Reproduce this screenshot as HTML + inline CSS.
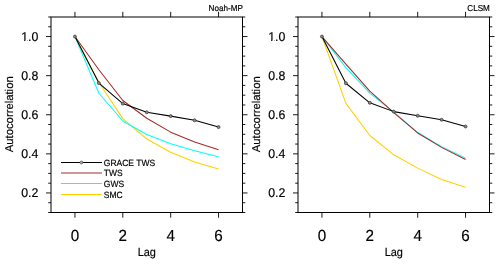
<!DOCTYPE html>
<html><head><meta charset="utf-8"><style>
html,body{margin:0;padding:0;background:#fff;}
body{width:500px;height:264px;overflow:hidden;}
svg{display:block;}
path.t{stroke:#000;stroke-width:0.18;}
text{stroke:#000;stroke-width:0.18;text-rendering:geometricPrecision;}
svg{will-change:transform;}
text{font-family:"Liberation Sans",sans-serif;fill:#000;}
</style></head><body>
<svg width="500" height="264" viewBox="0 0 500 264">
<path d="M51 212.5H48.2M242.5 212.5H245.3M51 202.72H48.2M242.5 202.72H245.3M51 192.95H46M242.5 192.95H247.5M51 183.18H48.2M242.5 183.18H245.3M51 173.4H48.2M242.5 173.4H245.3M51 163.62H48.2M242.5 163.62H245.3M51 153.85H46M242.5 153.85H247.5M51 144.07H48.2M242.5 144.07H245.3M51 134.3H48.2M242.5 134.3H245.3M51 124.52H48.2M242.5 124.52H245.3M51 114.75H46M242.5 114.75H247.5M51 104.97H48.2M242.5 104.97H245.3M51 95.2H48.2M242.5 95.2H245.3M51 85.42H48.2M242.5 85.42H245.3M51 75.65H46M242.5 75.65H247.5M51 65.87H48.2M242.5 65.87H245.3M51 56.1H48.2M242.5 56.1H245.3M51 46.32H48.2M242.5 46.32H245.3M51 36.55H46M242.5 36.55H247.5M51 26.77H48.2M242.5 26.77H245.3M51 17H48.2M242.5 17H245.3M74.94 212.5V217.7M74.94 17V11.8M122.81 212.5V217.7M122.81 17V11.8M170.69 212.5V217.7M170.69 17V11.8M218.56 212.5V217.7M218.56 17V11.8" stroke="#000" stroke-width="0.9" fill="none"/>
<polyline points="74.94,36.55 98.88,82.49 122.81,118.66 146.75,138.99 170.69,152.29 194.62,162.06 218.56,169.1" stroke="#ffd000" stroke-width="1.05" fill="none" stroke-linejoin="round"/>
<polyline points="74.94,36.55 98.88,93.25 122.81,121.01 146.75,134.5 170.69,143.68 194.62,150.72 218.56,156.78" stroke="#00ffff" stroke-width="1.05" fill="none" stroke-linejoin="round"/>
<polyline points="74.94,36.55 98.88,69.78 122.81,100.48 146.75,118.27 170.69,132.15 194.62,141.92 218.56,149.74" stroke="#a52a2a" stroke-width="1.05" fill="none" stroke-linejoin="round"/>
<polyline points="74.94,36.55 98.88,83.08 122.81,103.61 146.75,112.21 170.69,116.12 194.62,120.32 218.56,127.07" stroke="#000000" stroke-width="1.05" fill="none" stroke-linejoin="round"/>
<circle cx="74.94" cy="36.55" r="1.5" fill="#8a8a8a" stroke="#333" stroke-width="0.7"/>
<circle cx="98.88" cy="83.08" r="1.5" fill="#8a8a8a" stroke="#333" stroke-width="0.7"/>
<circle cx="122.81" cy="103.61" r="1.5" fill="#8a8a8a" stroke="#333" stroke-width="0.7"/>
<circle cx="146.75" cy="112.21" r="1.5" fill="#8a8a8a" stroke="#333" stroke-width="0.7"/>
<circle cx="170.69" cy="116.12" r="1.5" fill="#8a8a8a" stroke="#333" stroke-width="0.7"/>
<circle cx="194.62" cy="120.32" r="1.5" fill="#8a8a8a" stroke="#333" stroke-width="0.7"/>
<circle cx="218.56" cy="127.07" r="1.5" fill="#8a8a8a" stroke="#333" stroke-width="0.7"/>
<rect x="51" y="17" width="191.5" height="195.5" stroke="#000" stroke-width="1" fill="none"/>
<g transform="translate(38.3 40.95) scale(1 1.03)"><text font-size="12.35" text-anchor="end">1.0</text><path d="M-16.35 0.24H-14.13V-0.98H-16.35ZM-12.9 0.24H-10.78V-0.98H-12.9Z" fill="#fff"/></g>
<g transform="translate(38.3 80.05) scale(1 1.03)"><text font-size="12.35" text-anchor="end">0.8</text></g>
<g transform="translate(38.3 119.15) scale(1 1.03)"><text font-size="12.35" text-anchor="end">0.6</text></g>
<g transform="translate(38.3 158.25) scale(1 1.03)"><text font-size="12.35" text-anchor="end">0.4</text></g>
<g transform="translate(38.3 197.35) scale(1 1.03)"><text font-size="12.35" text-anchor="end">0.2</text></g>
<g transform="translate(74.94 240.8) scale(0.95 1)"><text font-size="16" text-anchor="middle">0</text></g>
<g transform="translate(122.81 240.8) scale(0.95 1)"><text font-size="16" text-anchor="middle">2</text></g>
<g transform="translate(170.69 240.8) scale(0.95 1)"><text font-size="16" text-anchor="middle">4</text></g>
<g transform="translate(218.56 240.8) scale(0.95 1)"><text font-size="16" text-anchor="middle">6</text></g>
<g transform="translate(146.75 256) scale(1 1.08)"><text font-size="10.9" text-anchor="middle">Lag</text></g>
<g transform="translate(13.3 114.3) rotate(-90)"><text font-size="11.3" text-anchor="middle">Autocorrelation</text></g>
<g transform="translate(242.8 11.3) scale(1 1.06)"><text font-size="8.1" text-anchor="end">Noah-MP</text></g>
<path d="M61 162.5H102" stroke="#000000" stroke-width="1.05"/>
<g transform="translate(103.8 165.7) scale(1 1.06)"><text font-size="8.5">GRACE TWS</text></g>
<path d="M61 173H102" stroke="#a52a2a" stroke-width="1.05"/>
<g transform="translate(103.8 176.2) scale(1 1.06)"><text font-size="8.5">TWS</text></g>
<path d="M61 183.5H102" stroke="#00ffff" stroke-width="1.05"/>
<g transform="translate(103.8 186.7) scale(1 1.06)"><text font-size="8.5">GWS</text></g>
<path d="M61 194.4H102" stroke="#ffd000" stroke-width="1.05"/>
<g transform="translate(103.8 197.6) scale(1 1.06)"><text font-size="8.5">SMC</text></g>
<circle cx="81.4" cy="162.5" r="1.45" fill="#b0b0b0" stroke="#333" stroke-width="0.6"/>
<path d="M298 212.5H295.2M489.5 212.5H492.3M298 202.72H295.2M489.5 202.72H492.3M298 192.95H293M489.5 192.95H494.5M298 183.18H295.2M489.5 183.18H492.3M298 173.4H295.2M489.5 173.4H492.3M298 163.62H295.2M489.5 163.62H492.3M298 153.85H293M489.5 153.85H494.5M298 144.07H295.2M489.5 144.07H492.3M298 134.3H295.2M489.5 134.3H492.3M298 124.52H295.2M489.5 124.52H492.3M298 114.75H293M489.5 114.75H494.5M298 104.97H295.2M489.5 104.97H492.3M298 95.2H295.2M489.5 95.2H492.3M298 85.42H295.2M489.5 85.42H492.3M298 75.65H293M489.5 75.65H494.5M298 65.87H295.2M489.5 65.87H492.3M298 56.1H295.2M489.5 56.1H492.3M298 46.32H295.2M489.5 46.32H492.3M298 36.55H293M489.5 36.55H494.5M298 26.77H295.2M489.5 26.77H492.3M298 17H295.2M489.5 17H492.3M321.94 212.5V217.7M321.94 17V11.8M369.81 212.5V217.7M369.81 17V11.8M417.69 212.5V217.7M417.69 17V11.8M465.56 212.5V217.7M465.56 17V11.8" stroke="#000" stroke-width="0.9" fill="none"/>
<polyline points="321.94,36.55 345.88,103.41 369.81,135.47 393.75,154.83 417.69,168.12 441.62,179.46 465.56,187.28" stroke="#ffd000" stroke-width="1.05" fill="none" stroke-linejoin="round"/>
<polyline points="321.94,36.55 345.88,67.63 369.81,93.05 393.75,112.21 417.69,132.54 441.62,146.62 465.56,158.15" stroke="#00ffff" stroke-width="1.05" fill="none" stroke-linejoin="round"/>
<polyline points="321.94,36.55 345.88,64.12 369.81,91.09 393.75,112.6 417.69,132.93 441.62,147.4 465.56,159.52" stroke="#a52a2a" stroke-width="1.05" fill="none" stroke-linejoin="round"/>
<polyline points="321.94,36.55 345.88,83.27 369.81,102.82 393.75,111.62 417.69,115.73 441.62,119.74 465.56,126.48" stroke="#000000" stroke-width="1.05" fill="none" stroke-linejoin="round"/>
<circle cx="321.94" cy="36.55" r="1.5" fill="#8a8a8a" stroke="#333" stroke-width="0.7"/>
<circle cx="345.88" cy="83.27" r="1.5" fill="#8a8a8a" stroke="#333" stroke-width="0.7"/>
<circle cx="369.81" cy="102.82" r="1.5" fill="#8a8a8a" stroke="#333" stroke-width="0.7"/>
<circle cx="393.75" cy="111.62" r="1.5" fill="#8a8a8a" stroke="#333" stroke-width="0.7"/>
<circle cx="417.69" cy="115.73" r="1.5" fill="#8a8a8a" stroke="#333" stroke-width="0.7"/>
<circle cx="441.62" cy="119.74" r="1.5" fill="#8a8a8a" stroke="#333" stroke-width="0.7"/>
<circle cx="465.56" cy="126.48" r="1.5" fill="#8a8a8a" stroke="#333" stroke-width="0.7"/>
<rect x="298" y="17" width="191.5" height="195.5" stroke="#000" stroke-width="1" fill="none"/>
<g transform="translate(285.3 40.95) scale(1 1.03)"><text font-size="12.35" text-anchor="end">1.0</text><path d="M-16.35 0.24H-14.13V-0.98H-16.35ZM-12.9 0.24H-10.78V-0.98H-12.9Z" fill="#fff"/></g>
<g transform="translate(285.3 80.05) scale(1 1.03)"><text font-size="12.35" text-anchor="end">0.8</text></g>
<g transform="translate(285.3 119.15) scale(1 1.03)"><text font-size="12.35" text-anchor="end">0.6</text></g>
<g transform="translate(285.3 158.25) scale(1 1.03)"><text font-size="12.35" text-anchor="end">0.4</text></g>
<g transform="translate(285.3 197.35) scale(1 1.03)"><text font-size="12.35" text-anchor="end">0.2</text></g>
<g transform="translate(321.94 240.8) scale(0.95 1)"><text font-size="16" text-anchor="middle">0</text></g>
<g transform="translate(369.81 240.8) scale(0.95 1)"><text font-size="16" text-anchor="middle">2</text></g>
<g transform="translate(417.69 240.8) scale(0.95 1)"><text font-size="16" text-anchor="middle">4</text></g>
<g transform="translate(465.56 240.8) scale(0.95 1)"><text font-size="16" text-anchor="middle">6</text></g>
<g transform="translate(393.75 256) scale(1 1.08)"><text font-size="10.9" text-anchor="middle">Lag</text></g>
<g transform="translate(260.3 114.3) rotate(-90)"><text font-size="11.3" text-anchor="middle">Autocorrelation</text></g>
<g transform="translate(489.8 11.3) scale(1 1.06)"><text font-size="8.1" text-anchor="end">CLSM</text></g>
</svg>
</body></html>
